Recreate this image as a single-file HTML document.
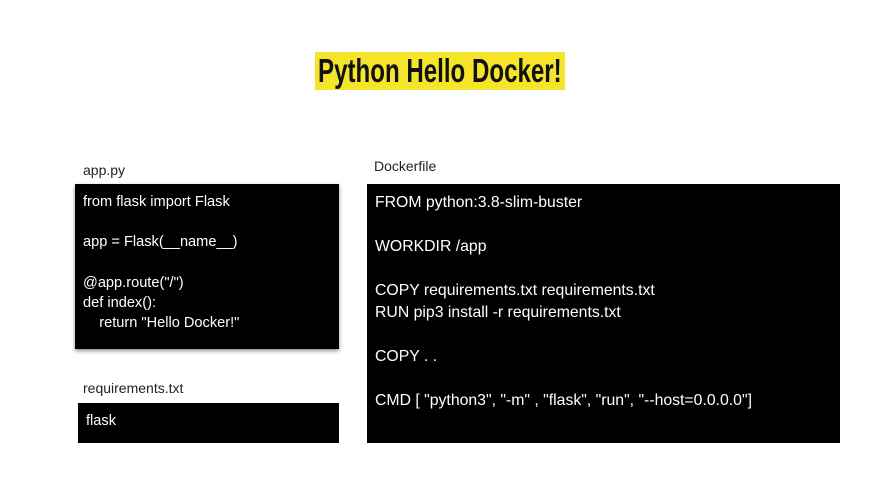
<!DOCTYPE html>
<html><head><meta charset="utf-8"><style>
body{margin:0;width:880px;height:495px;background:#fff;position:relative;overflow:hidden;font-family:"Liberation Sans",sans-serif;}
.a{position:absolute;}
.t{left:315px;top:52px;width:250px;height:38px;background:#f5e52a;font-family:"Liberation Sans Narrow","Liberation Sans",sans-serif;font-size:33px;line-height:38px;text-align:center;color:#111;white-space:nowrap;overflow:visible;}
.lbl{font-size:14px;color:#222;}
.box{background:#000;color:#fff;}
.code{white-space:pre;}
</style></head><body>
<div class="a t"><span style="display:inline-block;transform:scaleX(0.73);transform-origin:center;font-weight:bold;margin-left:-60px;margin-right:-60px;">Python Hello Docker!</span></div>
<div class="a lbl" style="left:83px;top:162px;">app.py</div>
<div class="a lbl" style="left:374px;top:158px;">Dockerfile</div>
<div class="a lbl" style="left:83px;top:380px;">requirements.txt</div>
<div class="a box code" style="left:75px;top:184px;width:264px;height:165px;box-shadow:0 2px 4px rgba(0,0,0,.45);font-size:14.6px;line-height:20.2px;"><div style="position:absolute;left:8px;top:8px;">from flask import Flask

app = Flask(__name__)

@app.route("/")
def index():
    return "Hello Docker!"</div></div>
<div class="a box" style="left:78px;top:403px;width:261px;height:40px;font-size:14.6px;"><div style="position:absolute;left:8px;top:10px;">flask</div></div>
<div class="a box code" style="left:367px;top:184px;width:473px;height:259px;font-size:15.8px;line-height:22px;"><div style="position:absolute;left:8px;top:8px;">FROM python:3.8-slim-buster

WORKDIR /app

COPY requirements.txt requirements.txt
RUN pip3 install -r requirements.txt

COPY . .

CMD [ "python3", "-m" , "flask", "run", "--host=0.0.0.0"]</div></div>
</body></html>
